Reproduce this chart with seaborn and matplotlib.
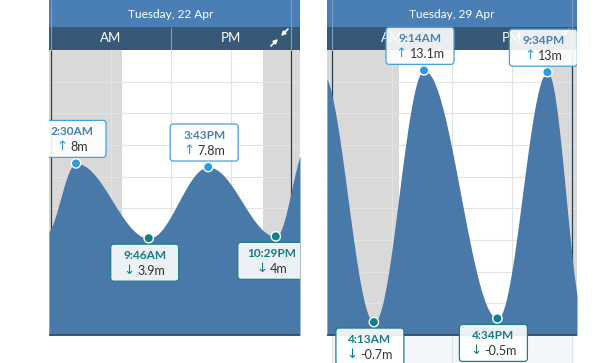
import matplotlib
matplotlib.use("Agg")
import matplotlib.pyplot as plt
import seaborn as sns
import numpy as np
import pandas as pd
from matplotlib.patches import FancyBboxPatch, Rectangle
from matplotlib.transforms import Affine2D, ScaledTranslation, offset_copy

# tide tables (hours after midnight, metres)
day1_title = "Tuesday, 22 Apr"
day1_labels = ["2:30AM", "9:46AM", "3:43PM", "10:29PM"]
day1_hours = [2.5, 9.77, 15.72, 22.48]
day1_heights = [8.0, 3.9, 7.8, 4.0]
day1_kind = ["high", "low", "high", "low"]
day1_before = (-0.6, 4.1)   # tides just outside the day, shape the edges
day1_after = (25.6, 9.0)
day1_sun = (7.1, 21.2)

day2_title = "Tuesday, 29 Apr"
day2_labels = ["4:13AM", "9:14AM", "4:34PM", "9:34PM"]
day2_hours = [4.22, 9.23, 16.57, 21.57]
day2_heights = [-0.7, 13.1, -0.5, 13.0]
day2_kind = ["low", "high", "low", "high"]
day2_before = (-1.0, 13.0)
day2_after = (25.3, -0.6)
day2_sun = (6.75, 21.4)

# layout (pixels)
W, H = 600, 363
PX_PER_M = 18.24
ZERO_PX = 309.3
PX_PER_HOUR = 10
CHART_TOP, CHART_BOT = 50, 335
BAND1, BAND2 = 27, 50

FILL = "#4879a8"
HEAD = "#4a7fb6"
HEAD_DARK = "#375877"
NIGHT = "#d9d9d9"
GRID = "#e3e3e3"
HIGH_C, HIGH_TXT, HIGH_EDGE = "#2b9be0", "#4a7fb5", "#45a0e0"
LOW_C, LOW_TXT, LOW_EDGE = "#0e7f8b", "#157c88", "#1d7f8a"

sns.set_style("white")
plt.rcParams["font.family"] = ["Lato", "DejaVu Sans"]


def m_at(p):
    return (ZERO_PX - p) / PX_PER_M


def tide_curve(hours, heights, t):
    hours = np.asarray(hours)
    heights = np.asarray(heights)
    i = np.clip(np.searchsorted(hours, t) - 1, 0, len(hours) - 2)
    f = (t - hours[i]) / (hours[i + 1] - hours[i])
    return heights[i] + (heights[i + 1] - heights[i]) * (1 - np.cos(np.pi * f)) / 2


fig = plt.figure(figsize=(W / 100, H / 100), dpi=100)
renderer = fig.canvas.get_renderer()


def draw_panel(left_px, right_px, midnight_px, title, labels, hours, heights, kinds,
               before, after, sun, strip):
    ax = fig.add_axes([left_px / W, 0, (right_px - left_px) / W, 1])
    x0 = (left_px - midnight_px) / PX_PER_HOUR
    x1 = (right_px - midnight_px) / PX_PER_HOUR
    ax.set_xlim(x0, x1)
    ax.set_ylim(m_at(H), m_at(0))
    ax.set_axis_off()
    ytop, ybot = m_at(CHART_TOP), m_at(CHART_BOT)
    fa, fb = 1 - CHART_BOT / H, 1 - CHART_TOP / H

    # night shading and grid
    ax.axvspan(x0, sun[0], ymin=fa, ymax=fb, color=NIGHT, lw=0, zorder=0)
    ax.axvspan(sun[1], x1, ymin=fa, ymax=fb, color=NIGHT, lw=0, zorder=0)
    for v in np.linspace(ybot, ytop, 10)[1:-1]:
        ax.hlines(v, x0, x1, color=GRID, lw=0.8, zorder=1)
    ax.vlines([6, 12, 18], ybot, ytop, color=GRID, lw=0.8, zorder=1)
    ax.vlines([0, 24], ybot, ytop, color="#2c3e50", lw=0.9, zorder=1.5)

    if strip:
        ax.add_patch(Rectangle((0, m_at(H)), 24, ybot - m_at(H), color="#f3f7fb", lw=0, zorder=0))
        ax.vlines([0, 12, 24], m_at(H), ybot, color="#dde4ea", lw=0.8, zorder=0.5)

    # tide area
    th = [before[0]] + list(hours) + [after[0]]
    tv = [before[1]] + list(heights) + [after[1]]
    t = np.linspace(x0, x1, 800)
    ax.fill_between(t, ybot, tide_curve(th, tv, t), color=FILL, lw=0, zorder=2)
    ax.hlines(ybot, x0, x1, color="#2d4862", lw=1.2, zorder=3)

    # header bands
    ax.add_patch(Rectangle((0, 1 - BAND1 / H), 1, BAND1 / H, transform=ax.transAxes,
                           color=HEAD, lw=0, zorder=4))
    ax.add_patch(Rectangle((0, 1 - BAND2 / H), 1, (BAND2 - BAND1) / H, transform=ax.transAxes,
                           color=HEAD_DARK, lw=0, zorder=4))
    ax.vlines([0, 24], m_at(BAND2), m_at(0), color="#7f9cb8", lw=0.8, zorder=4.5)
    ax.vlines([12], m_at(BAND2), m_at(BAND1), color="#7f9cb8", lw=0.8, zorder=4.5)
    ax.text(12, m_at(BAND1 / 2 + 1), title, color="white", fontsize=8.6, ha="center",
            va="center", zorder=5)
    ax.text(6, m_at((BAND1 + BAND2) / 2), "AM", color="white", fontsize=9.5,
            ha="center", va="center", zorder=5)
    ax.text(18, m_at((BAND1 + BAND2) / 2), "PM", color="white", fontsize=9.5,
            ha="center", va="center", zorder=5)
    # collapse icon
    arr = dict(arrowstyle="-|>", color="white", lw=1.2, mutation_scale=6, shrinkA=0, shrinkB=0)
    ax.annotate("", xy=(24 - 1.0, m_at(36)), xytext=(7, 7), textcoords="offset pixels",
                arrowprops=arr, zorder=5)
    ax.annotate("", xy=(24 - 1.3, m_at(39)), xytext=(-7, -7), textcoords="offset pixels",
                arrowprops=arr, zorder=5)

    # markers
    df = pd.DataFrame({"hour": hours, "height": heights, "kind": kinds})
    sns.scatterplot(data=df, x="hour", y="height", hue="kind",
                    palette={"high": HIGH_C, "low": LOW_C}, s=45, edgecolor="white",
                    linewidth=1, legend=False, zorder=9, ax=ax, clip_on=False)

    # labels
    for lab, h, v, k in zip(labels, hours, heights, kinds):
        up = k == "high"
        txt_c, edge_c, arrow_c = (HIGH_TXT, HIGH_EDGE, HIGH_C) if up else (LOW_TXT, LOW_EDGE, LOW_C)
        by = 6 if up else -43
        box = FancyBboxPatch((-38, by), 68, 37, boxstyle="round,pad=0,rounding_size=3",
                             transform=Affine2D() + ScaledTranslation(h, v, ax.transData),
                             fc=(1, 1, 1, 0.9), ec=edge_c, lw=0.9, zorder=7)
        ax.add_patch(box)
        ax.set_xlim(x0, x1)
        ax.set_ylim(m_at(H), m_at(0))
        ty = by + 26
        vy = by + 10.5
        ax.text(h, v, lab, transform=offset_copy(ax.transData, fig=fig, x=-4, y=ty, units="dots"),
                ha="center", va="center", fontsize=8.6, fontweight="bold", color=txt_c,
                zorder=8, clip_on=True)
        arrow = "\u2191" if up else "\u2193"
        a_t = ax.text(h, v, arrow, ha="center", va="center", fontsize=9.5, color=arrow_c,
                      family=["DejaVu Sans"], zorder=8, clip_on=True)
        v_t = ax.text(h, v, f"{v:g}m", ha="left", va="center", fontsize=9,
                      color="#333333", zorder=8, clip_on=True)
        aw = a_t.get_window_extent(renderer).width
        vw = v_t.get_window_extent(renderer).width
        gap = 3
        start = -4 - (aw + gap + vw) / 2
        a_t.set_transform(offset_copy(ax.transData, fig=fig, x=start + aw / 2, y=vy, units="dots"))
        v_t.set_transform(offset_copy(ax.transData, fig=fig, x=start + aw + gap, y=vy, units="dots"))
    return ax


draw_panel(49, 300, 51, day1_title, day1_labels, day1_hours, day1_heights, day1_kind,
           day1_before, day1_after, day1_sun, strip=False)
draw_panel(327, 577, 331.7, day2_title, day2_labels, day2_hours, day2_heights, day2_kind,
           day2_before, day2_after, day2_sun, strip=True)

fig.savefig("out.png", dpi=100, facecolor="white")
